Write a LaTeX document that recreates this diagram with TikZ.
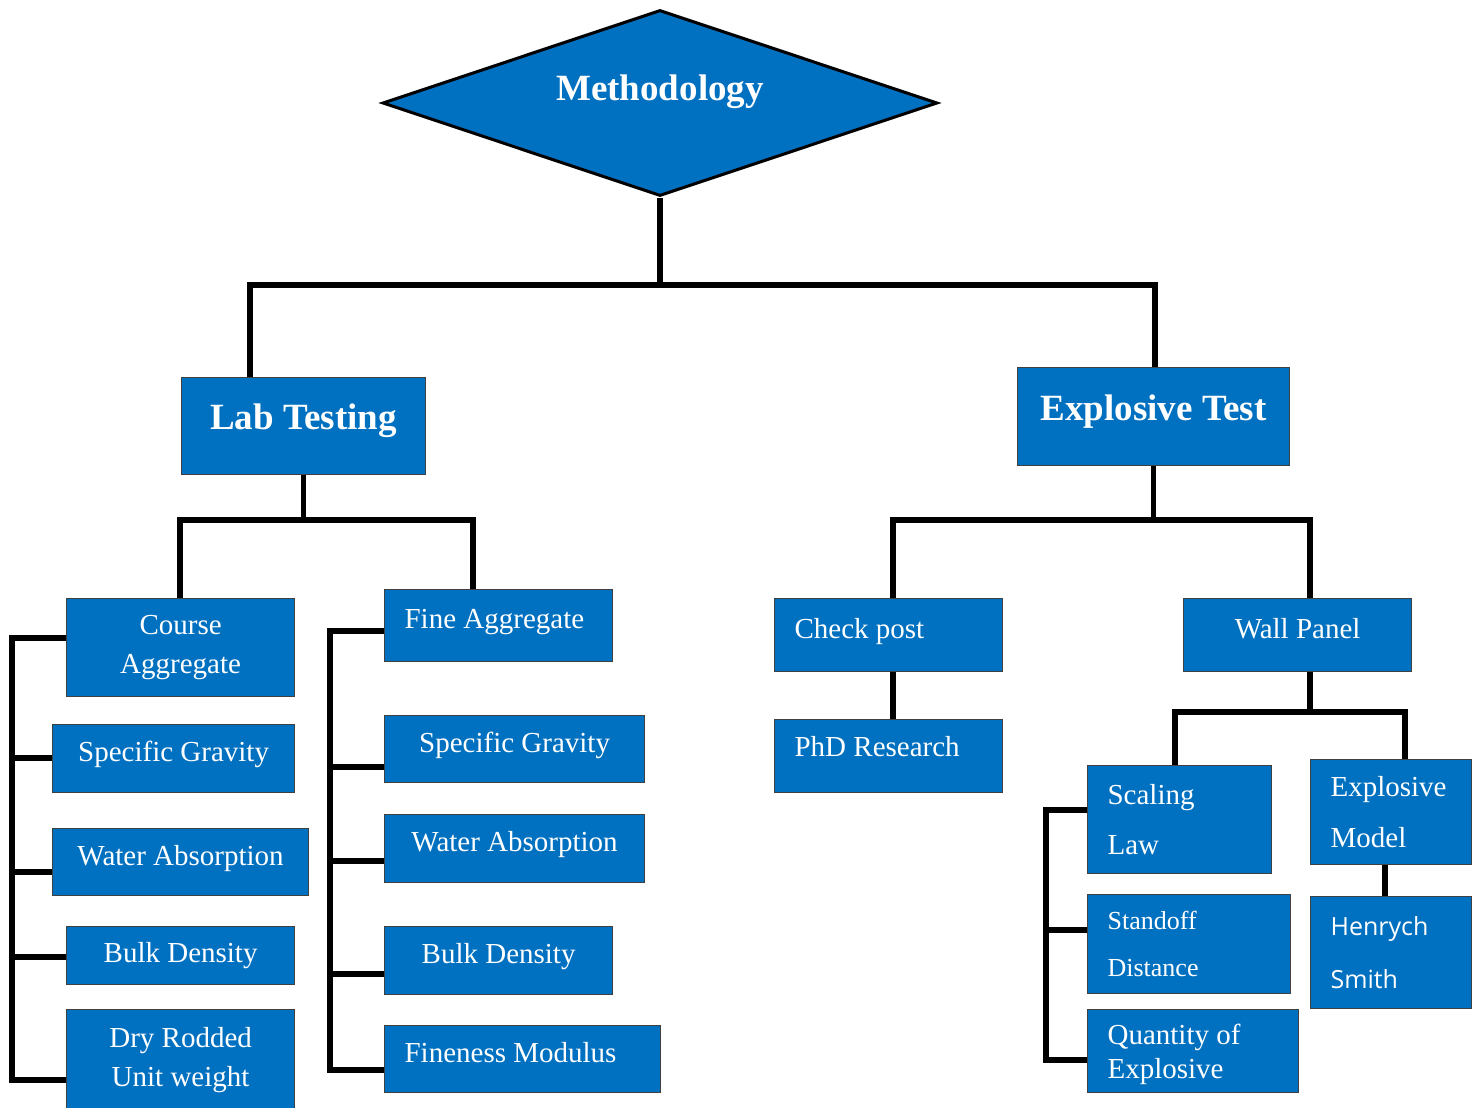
\documentclass[tikz,border=0pt]{standalone}
\usepackage{fontspec}
\setmainfont{Liberation Serif}
\newfontfamily\hsans{Open Sans}
\usetikzlibrary{shapes.geometric}
\definecolor{boxblue}{RGB}{0,112,192}

\tikzset{
  link/.style={line width=2.6pt, black},
  box/.style={rectangle, draw=black!75, line width=0.6pt, fill=boxblue, text=white,
    anchor=north west, inner sep=2pt, font=\fontsize{14.5}{19.5}\selectfont},
  mid/.style={box, align=center},
  lft/.style={box, align=flush left, inner xsep=10pt},
  oneline/.style={text height=10pt, text depth=7pt},
  head/.style={box, align=center, font=\bfseries\fontsize{18.5}{22}\selectfont,
    text height=12pt, text depth=8.6pt},
}

\begin{document}
\begin{tikzpicture}[x=0.5pt, y=-0.5pt]
  \useasboundingbox (0,0) rectangle (1480,1108);

  % top
  \node[diamond, aspect=3, draw=black, line width=1.5pt, fill=boxblue, text=white,
    minimum width=277.5pt, minimum height=93pt, inner sep=0pt,
    font=\bfseries\fontsize{18.5}{22}\selectfont, text height=12pt, text depth=15pt]
    (meth) at (660,103) {Methodology};
  \node[head, minimum width=122pt, minimum height=48.5pt] (lab) at (181,377) {Lab Testing};
  \node[head, minimum width=136pt, minimum height=49pt] (exp) at (1017,367) {Explosive Test};

  % course aggregate
  \node[mid, minimum width=114pt, minimum height=49pt] (ca) at (66,598) {Course\\Aggregate};
  \node[mid, oneline, minimum width=121pt, minimum height=34pt] (sga) at (52,724) {Specific Gravity};
  \node[mid, oneline, minimum width=128pt, minimum height=33.5pt] (wta) at (52,828) {Water Absorption};
  \node[mid, minimum width=114pt, minimum height=29pt] (bda) at (66,926) {Bulk Density};
  \node[mid, minimum width=114pt, minimum height=50pt] (dry) at (66,1009) {Dry Rodded\\Unit weight};

  % fine aggregate
  \node[lft, oneline, text width=94pt, minimum height=36pt] (fa) at (384,589) {Fine Aggregate};
  \node[mid, oneline, minimum width=130pt, minimum height=33.5pt] (sgb) at (384,715) {Specific Gravity};
  \node[mid, oneline, minimum width=130pt, minimum height=34pt] (wtb) at (384,814) {Water Absorption};
  \node[mid, oneline, minimum width=114pt, minimum height=34pt] (bdb) at (384,926) {Bulk Density};
  \node[lft, oneline, text width=118pt, minimum height=33.5pt] (fm) at (384,1025) {Fineness Modulus};

  % explosive side
  \node[lft, oneline, text width=94pt, minimum height=36.5pt] (cp) at (774,598) {Check post};
  \node[lft, oneline, text depth=10pt, text width=94pt, minimum height=36.5pt] (phd) at (774,719) {PhD Research};
  \node[mid, oneline, minimum width=114pt, minimum height=36.5pt] (wp) at (1183,598) {Wall Panel};
  \node[lft, text width=72pt, minimum height=54pt, font=\fontsize{14.5}{25}\selectfont]
    (sl) at (1087,765) {Scaling\\Law};
  \node[lft, text width=60.5pt, minimum height=52.5pt, font=\fontsize{14.5}{25.5}\selectfont]
    (em) at (1310,759) {Explosive\\Model};
  \node[lft, text width=60.5pt, minimum height=56pt, font=\hsans\fontsize{12.5}{26.5}\selectfont]
    (hs) at (1310,896) {Henrych\\Smith};
  \node[lft, text width=81.5pt, minimum height=49.5pt, font=\fontsize{13}{23.5}\selectfont]
    (sd) at (1087,894) {Standoff\\Distance};
  \node[lft, text width=85.5pt, minimum height=41.5pt, text height=13pt, font=\fontsize{14.5}{17}\selectfont]
    (qe) at (1087,1009) {Quantity of\\Explosive};

  % tree lines
  \coordinate (topbus) at (660,285);
  \coordinate (labbus) at (304,520);
  \coordinate (expbus) at (1153,520);
  \coordinate (wpbus) at (1310,712);
  \draw[link] (meth.south) -- (topbus);
  \draw[link] (lab.north -| 250,0) |- (topbus) -| (exp.north -| 1155,0);
  \draw[link] (lab.south) -- (lab.south |- labbus);
  \draw[link] (ca.north -| 180,0) |- (labbus) -| (fa.north -| 473,0);
  \draw[link] (exp.south) -- (exp.south |- expbus);
  \draw[link] (cp.north -| 893,0) |- (expbus) -| (wp.north -| 1310,0);
  \draw[link] (cp.south -| 893,0) -- (phd.north -| 893,0);
  \draw[link] (wp.south -| wpbus) -- (wpbus);
  \draw[link] (sl.north -| 1175,0) |- (wpbus) -| (em.north -| 1405,0);
  \draw[link] (em.south -| 1385,0) -- (hs.north -| 1385,0);

  % brackets
  \coordinate (lspine) at (12,0);
  \coordinate (mspine) at (330,0);
  \coordinate (rspine) at (1046,0);
  \draw[link] (ca.west |- 0,638) -| (lspine |- 0,1080) -- (dry.west |- 0,1080);
  \foreach \n/\y in {sga/758, wta/872, bda/957}
    \draw[link] (lspine |- 0,\y) -- (\n.west |- 0,\y);
  \draw[link] (fa.west |- 0,631) -| (mspine |- 0,1070) -- (fm.west |- 0,1070);
  \foreach \n/\y in {sgb/767, wtb/861, bdb/974}
    \draw[link] (mspine |- 0,\y) -- (\n.west |- 0,\y);
  \draw[link] (sl.west |- 0,810) -| (rspine |- 0,1060) -- (qe.west |- 0,1060);
  \draw[link] (rspine |- 0,930) -- (sd.west |- 0,930);
\end{tikzpicture}
\end{document}
